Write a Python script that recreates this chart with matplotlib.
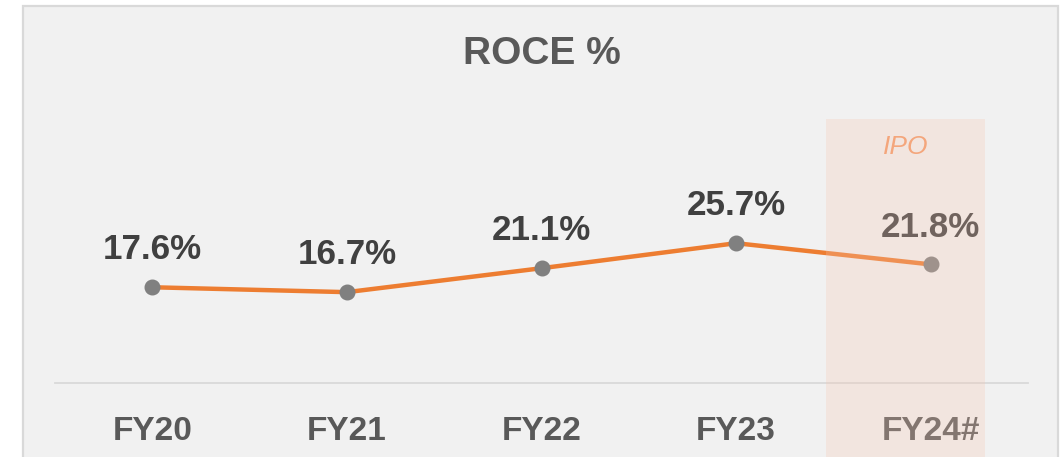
import matplotlib
matplotlib.use("Agg")
import matplotlib.pyplot as plt
from matplotlib.patches import Rectangle

categories = ["FY20", "FY21", "FY22", "FY23", "FY24#"]
roce = [17.6, 16.7, 21.1, 25.7, 21.8]
labels = ["17.6%", "16.7%", "21.1%", "25.7%", "21.8%"]
title = "ROCE %"
highlight_text = "IPO"

plt.rcParams['font.family'] = ['Liberation Sans', 'DejaVu Sans']

W, H = 1064, 457
fig = plt.figure(figsize=(W/100, H/100), dpi=100)
fig.patch.set_facecolor('white')

# outer frame
frame = Rectangle((23/W, -0.1), (1058-23)/W, 1.1 - 6/H, transform=fig.transFigure,
                  facecolor='#f1f1f1', edgecolor='#d9d9d9', linewidth=1.6, zorder=-1)
fig.patches.append(frame)

ax = fig.add_axes([55/W, (H-383)/H, (1028-55)/W, 272/H])
ax.set_facecolor('none')
x = list(range(len(categories)))
ax.plot(x, roce, color='#ED7D31', linewidth=3.2, zorder=2)
ax.plot(x, roce, linestyle='none', marker='o', markersize=10.5,
        color='#808080', zorder=2.2)

for xi, v, lab in zip(x, roce, labels):
    ax.annotate(lab, (xi, v), xytext=(0, 20), textcoords='offset points',
                ha='center', va='baseline', fontsize=25.2, fontweight='bold',
                color='#404040', zorder=2.3)

ax.set_xlim(-0.5, len(categories) - 0.5)
ax.set_ylim(0, 50)
ax.set_yticks([])
ax.set_xticks(x)
ax.set_xticklabels(categories, fontsize=24, fontweight='bold', color='#595959')
ax.tick_params(axis='x', length=0, pad=23.5)
for s in ['top', 'left', 'right']:
    ax.spines[s].set_visible(False)
ax.spines['bottom'].set_color('#d9d9d9')
ax.spines['bottom'].set_linewidth(1.3)

# highlight overlay
rect = Rectangle((3.46, -20), 0.82, 68.5, facecolor=(245/255, 197/255, 175/255),
                 alpha=0.27, edgecolor='none', clip_on=False, zorder=5)
ax.add_patch(rect)
ax.text(3.87, 43.4, highlight_text, ha='center', va='center', fontsize=19,
        fontstyle='italic', color='#f4a67c', zorder=6)

fig.text(542/W, 1 - 54/H, title, ha='center', va='center', fontsize=28,
         fontweight='bold', color='#595959')

fig.savefig('out.png', dpi=100, facecolor='white')
